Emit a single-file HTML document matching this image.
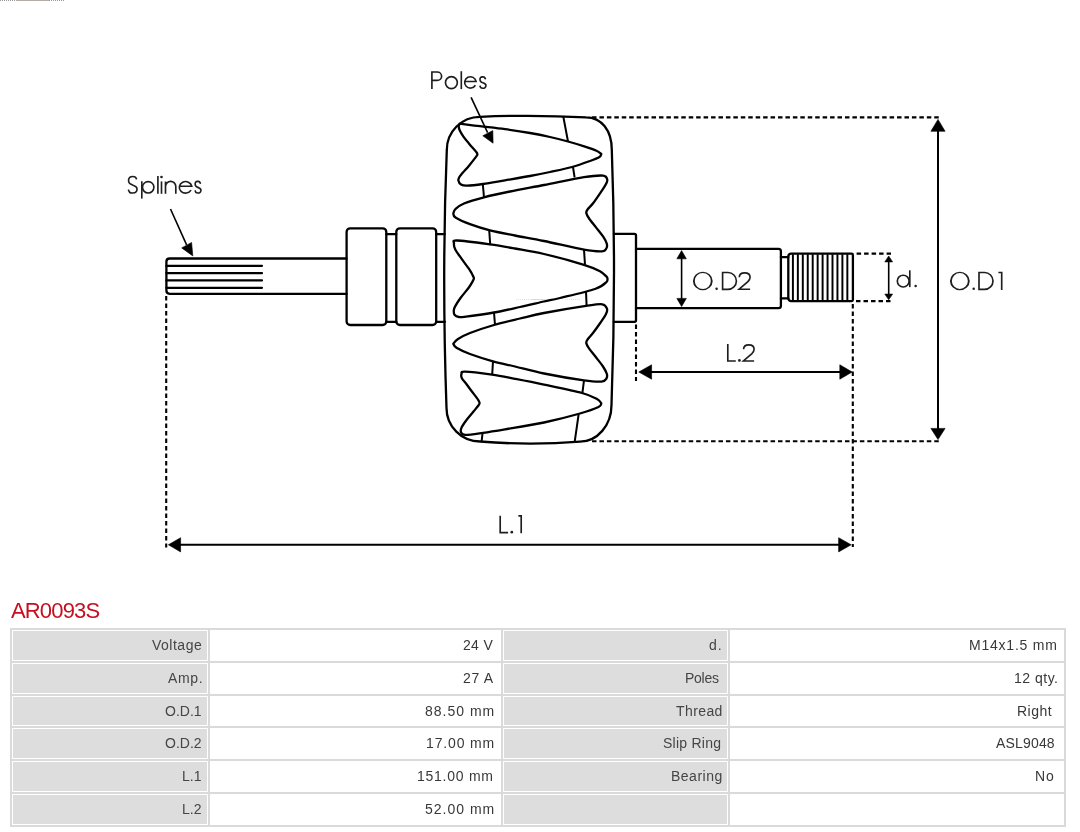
<!DOCTYPE html>
<html><head><meta charset="utf-8"><title>AR0093S</title>
<style>
html,body{margin:0;padding:0;background:#fff;}
body{width:1080px;height:832px;position:relative;overflow:hidden;font-family:"Liberation Sans",sans-serif;}
svg{position:absolute;left:0;top:0;}
.s{fill:none;stroke:#000;stroke-width:2.3;stroke-linejoin:round;stroke-linecap:round;}
.s2{fill:none;stroke:#000;stroke-width:2.2;stroke-linecap:round;}
.s3{fill:none;stroke:#000;stroke-width:1.95;}
.s4{fill:none;stroke:#000;stroke-width:2.0;stroke-linecap:butt;}
.d1{fill:none;stroke:#000;stroke-width:1.6;}
.d2{fill:none;stroke:#000;stroke-width:2.0;}
.ld{fill:none;stroke:#000;stroke-width:1.6;}
.fl{fill:#000;stroke:#000;stroke-width:0.6;stroke-linejoin:round;}
.dt{fill:none;stroke:#000;stroke-width:2.1;stroke-dasharray:4.5 3;}
.gl{fill:none;stroke:#1e1e1e;stroke-width:1.65;stroke-linecap:butt;stroke-linejoin:miter;}
.gl .gd{fill:#1e1e1e;stroke:none;}
#t{position:absolute;left:11px;top:599px;will-change:transform;font-size:22px;line-height:24px;color:#c60f1f;letter-spacing:-0.85px;}
#tb{position:absolute;left:10px;top:628px;width:1056px;height:199px;background:#dadada;}
.c{position:absolute;height:28.8px;border:1px solid #fff;box-sizing:content-box;}
.tx{position:absolute;font-size:14px;line-height:16px;white-space:nowrap;will-change:transform;-webkit-font-smoothing:antialiased;}
.c.lb{background:#dddddd;}
.c.vl{background:#fff;}
.tx.lb{color:#454545;}
.tx.vl{color:#383838;}
</style></head>
<body>
<svg width="1080" height="600" viewBox="0 0 1080 600">
<path d="M346.6 258.5 H169.6 V258.5 Q166.4 258.5 166.4 261.7 V290.6 Q166.4 293.8 169.6 293.8 H346.6" class="s"/>
<path d="M166.4 265.8 H262" class="s2"/>
<path d="M166.4 273.2 H262" class="s2"/>
<path d="M166.4 280.4 H262" class="s2"/>
<path d="M166.4 287.8 H262" class="s2"/>
<rect x="346.6" y="228.3" width="39.7" height="96.7" rx="3.6" class="s"/>
<rect x="396.3" y="228.3" width="39.9" height="96.7" rx="3.6" class="s"/>
<path d="M386.3 234.1 H396.3 M386.3 321.8 H396.3 M436.2 234.1 H444.8 M436.2 321.8 H445" class="s"/>
<path d="M480 116.8 Q533 114.55 586 117.3 C601.48 117.3 611.8 130.38 611.8 150 Q616.35 274.5 611.5 405 C611.5 425.2 597.39 441.6 580 441.6 Q530 445.65 480 441.5 C461.51 441.5 446.5 426.49 446.5 408 Q441.75 273 446.8 150 C446.8 131.67 461.67 116.8 480 116.8Z" class="s"/>
<path d="M613.9 233.9 H634.4 Q636 233.9 636 235.5 V320.2 Q636 321.8 634.4 321.8 H613.8" class="s"/>
<path d="M636 248.9 H778.5 Q780.9 248.9 780.9 251.3 V305.8 Q780.9 308.2 778.5 308.2 H636" class="s"/>
<path d="M780.9 257.2 H788.3 M780.9 298.3 H788.3" class="s"/>
<path d="M791.3 253.6 H851.6 Q852.9 253.6 852.9 254.9 V299.8 Q852.9 301.1 851.6 301.1 H791.3 Q788.3 301.1 788.3 298.1 V256.6 Q788.3 253.6 791.3 253.6 Z" class="s"/>
<path d="M792.9 254.2V300.5M797.85 254.2V300.5M802.8 254.2V300.5M807.75 254.2V300.5M812.7 254.2V300.5M817.65 254.2V300.5M822.6 254.2V300.5M827.55 254.2V300.5M832.5 254.2V300.5M837.45 254.2V300.5M842.4 254.2V300.5M847.35 254.2V300.5" class="s3"/>
<path d="M601.3 154C601 154.5 601.38 155.83 599.5 157C597.62 158.17 594.58 159.33 590 161C585.42 162.67 578.67 165.17 572 167C565.33 168.83 557 170.5 550 172C543 173.5 537.5 174.62 530 176C522.5 177.38 512.83 178.97 505 180.3C497.17 181.63 489.33 183.1 483 184C476.67 184.9 470.67 185.6 467 185.7C463.33 185.8 462.43 185.45 461 184.6C459.57 183.75 458.67 181.87 458.4 180.6C458.13 179.33 458.72 178.25 459.4 177C460.08 175.75 460.87 175.03 462.5 173.1C464.13 171.17 467.05 167.98 469.2 165.4C471.35 162.82 474.03 159.43 475.4 157.6C476.77 155.77 477.33 155.43 477.4 154.4C477.47 153.37 477.12 153.1 475.8 151.4C474.48 149.7 471.53 146.62 469.5 144.2C467.47 141.78 465.22 139.17 463.6 136.9C461.98 134.63 460.62 132.35 459.8 130.6C458.98 128.85 458.73 127.55 458.7 126.4C458.67 125.25 459.45 124.15 459.6 123.7C463 124.12 472.43 125.28 480 126.2C487.57 127.12 496.67 128.07 505 129.2C513.33 130.33 522.5 131.7 530 133C537.5 134.3 543.67 135.58 550 137C556.33 138.42 562.17 139.9 568 141.5C573.83 143.1 580.25 145.05 585 146.6C589.75 148.15 593.78 149.57 596.5 150.8C599.22 152.03 600.5 153.47 601.3 154Z" class="s"/>
<path d="M453.3 213.4C453.67 214.08 452.72 215.7 455.5 217.5C458.28 219.3 464.25 222.05 470 224.2C475.75 226.35 482.5 228.52 490 230.4C497.5 232.28 506 233.73 515 235.5C524 237.27 532.5 238.65 544 241C555.5 243.35 574.33 247.88 584 249.6C593.67 251.32 598.28 251.48 602 251.3C605.72 251.12 605.5 249.77 606.3 248.5C607.1 247.23 607.32 245.67 606.8 243.7C606.28 241.73 604.97 239.38 603.2 236.7C601.43 234.02 598.55 230.63 596.2 227.6C593.85 224.57 590.75 220.93 589.1 218.5C587.45 216.07 586.55 214.52 586.3 213C586.05 211.48 586.47 211.02 587.6 209.4C588.73 207.78 591 206 593.1 203.3C595.2 200.6 598.05 196.42 600.2 193.2C602.35 189.98 604.83 186.28 606 184C607.17 181.72 607.67 180.9 607.2 179.5C606.73 178.1 607.07 175.98 603.2 175.6C599.33 175.22 593.87 175.63 584 177.2C574.13 178.77 556.33 182.62 544 185C531.67 187.38 520 189.45 510 191.5C500 193.55 491.67 195.3 484 197.3C476.33 199.3 468.75 201.55 464 203.5C459.25 205.45 457.28 207.35 455.5 209C453.72 210.65 453.67 212.67 453.3 213.4Z" class="s"/>
<path d="M607.2 277.3C607.08 278.08 608.53 280.05 606.5 282C604.47 283.95 602.75 286.33 595 289C587.25 291.67 568.5 295.92 560 298C551.5 300.08 550.67 300 544 301.5C537.33 303 528.33 305.17 520 307C511.67 308.83 503 310.9 494 312.5C485 314.1 471.83 315.85 466 316.6C460.17 317.35 460.92 317.32 459 317C457.08 316.68 455.37 315.82 454.5 314.7C453.63 313.58 453.72 311.65 453.8 310.3C453.88 308.95 453.88 308.65 455 306.6C456.12 304.55 458.22 301.15 460.5 298C462.78 294.85 466.7 290.43 468.7 287.7C470.7 284.97 471.63 283.17 472.5 281.6C473.37 280.03 473.92 279.43 473.9 278.3C473.88 277.17 473.08 276.17 472.4 274.8C471.72 273.43 471.62 272.78 469.8 270.1C467.98 267.42 463.92 262.15 461.5 258.7C459.08 255.25 456.55 251.93 455.3 249.4C454.05 246.87 453.68 244.98 454 243.5C454.32 242.02 451.2 240.35 457.2 240.5C463.2 240.65 480.37 243.07 490 244.4C499.63 245.73 506 246.9 515 248.5C524 250.1 532.5 251.28 544 254C555.5 256.72 574.67 261.93 584 264.8C593.33 267.67 596.13 269.12 600 271.2C603.87 273.28 606 276.28 607.2 277.3Z" class="s"/>
<path d="M453.3 343.8C453.83 344.47 453.72 346.1 456.5 347.8C459.28 349.5 463.92 351.75 470 354C476.08 356.25 485.5 359.22 493 361.3C500.5 363.38 506.5 364.47 515 366.5C523.5 368.53 532.5 371.18 544 373.5C555.5 375.82 574.42 379.05 584 380.4C593.58 381.75 597.77 381.92 601.5 381.6C605.23 381.28 605.52 379.8 606.4 378.5C607.28 377.2 607.37 375.8 606.8 373.8C606.23 371.8 604.8 369.25 603 366.5C601.2 363.75 598.33 360.33 596 357.3C593.67 354.27 590.62 350.65 589 348.3C587.38 345.95 586.53 344.67 586.3 343.2C586.07 341.73 586.48 341.2 587.6 339.5C588.72 337.8 590.9 335.75 593 333C595.1 330.25 598.03 326.17 600.2 323C602.37 319.83 604.87 316.37 606 314C607.13 311.63 607.62 310.42 607 308.8C606.38 307.18 605.8 304.78 602.3 304.3C598.8 303.82 595.72 304.45 586 305.9C576.28 307.35 555 310.9 544 313C533 315.1 528.33 316.5 520 318.5C511.67 320.5 502.33 322.58 494 325C485.67 327.42 476 330.67 470 333C464 335.33 460.78 337.2 458 339C455.22 340.8 454.08 343 453.3 343.8Z" class="s"/>
<path d="M601.3 403.3C600.83 403.92 602.05 405.3 598.5 407C594.95 408.7 589.08 410.92 580 413.5C570.92 416.08 556.5 419.87 544 422.5C531.5 425.13 515.17 427.58 505 429.3C494.83 431.02 489.63 431.88 483 432.8C476.37 433.72 468.87 434.93 465.2 434.8C461.53 434.67 461.6 433.22 461 432C460.4 430.78 460.68 429.5 461.6 427.5C462.52 425.5 464.52 422.67 466.5 420C468.48 417.33 471.58 413.83 473.5 411.5C475.42 409.17 476.98 407.42 478 406C479.02 404.58 479.6 404.07 479.6 403C479.6 401.93 479.35 401.6 478 399.6C476.65 397.6 473.5 393.68 471.5 391C469.5 388.32 467.58 385.58 466 383.5C464.42 381.42 462.75 380.08 462 378.5C461.25 376.92 461 375.15 461.5 374C462 372.85 459.92 371.5 465 371.6C470.08 371.7 483.67 373.4 492 374.6C500.33 375.8 506.33 377.13 515 378.8C523.67 380.47 532.83 382.23 544 384.6C555.17 386.97 573.17 390.6 582 393C590.83 395.4 593.78 397.28 597 399C600.22 400.72 600.58 402.58 601.3 403.3Z" class="s"/>
<path d="M563.2 116 L568 141.5M482.8 184 L484 197.3M573 167 L574.6 177.4M489.2 230.2 L490.2 244.4M584 249.6 L585 264.8M494 312.5 L495 325M586 291.5 L586.6 305.9M493 361.3 L492.2 374.6M584 380.4 L582.4 393M482.6 432.9 L481.6 441.4M578.6 414.5 L574.6 442.3" class="s4"/>
<path d="M681.6 257 V300" class="d1"/>
<path d="M681.6 250.6 L676.85 258.8 L686.35 258.8 Z" class="fl"/>
<path d="M681.6 306.6 L676.85 298.4 L686.35 298.4 Z" class="fl"/>
<path d="M888.7 260 V296" class="d1"/>
<path d="M888.7 256 L884.8 261.9 L892.6 261.9 Z" class="fl"/>
<path d="M888.7 299.8 L884.8 294.1 L892.6 294.1 Z" class="fl"/>
<path d="M938 128 V431" class="d2"/>
<path d="M938 119.4 L930.9 131.3 L945.1 131.3 Z" class="fl"/>
<path d="M938 439.6 L930.9 428.4 L945.1 428.4 Z" class="fl"/>
<path d="M648 372 H843" class="d2"/>
<path d="M638.8 372 L651.6 364.8 L651.6 379.2 Z" class="fl"/>
<path d="M852.2 372 L839.8 364.8 L839.8 379.2 Z" class="fl"/>
<path d="M177 544.8 H842" class="d2"/>
<path d="M168.4 544.8 L180.6 537.7 L180.6 551.9 Z" class="fl"/>
<path d="M851.2 544.8 L838.6 537.7 L838.6 551.9 Z" class="fl"/>
<path d="M592 117.4 H939.5 M592 441.2 H939.5" class="dt" style="stroke-dasharray:4.5 2.94"/>
<path d="M856.6 253.6 H891 M856 301.1 H891 M166.2 296 V547.5 M852.8 304 V547 M636 324.5 V381" class="dt"/>
<path d="M471.1 97.4 L487.6 132.6" class="ld"/>
<path d="M493.1 143.2 L482.8 135.8 L492.8 130.6 Z" class="fl"/>
<path d="M170.5 209 L186.6 244.8" class="ld"/>
<path d="M192.8 255.9 L181.7 247.9 L191.6 242.4 Z" class="fl"/>
<path d="M0 0.5 H16 M49 0.5 H64" style="stroke:#9a9a9a;stroke-width:1;stroke-dasharray:1 1;fill:none"/>
<path d="M16 0.5 H49" style="stroke:#b4aca4;stroke-width:1;fill:none"/>
<path d="M516 299.5 H531.5 M565 299.5 H580.5" style="stroke:#d8d8d8;stroke-width:0.8;stroke-dasharray:1 1;fill:none"/>
<path d="M531.5 299.5 H546" style="stroke:#d4d0c8;stroke-width:0.8;fill:none"/>
<g class="gl">
<path d="M431.9 89.1 V72 H437.19 A4.41 4.2 0 0 1 437.19 80.4 H431.9"/>
<circle cx="451.4" cy="82.6" r="5.95"/>
<path d="M461.3 71.2 L461.3 89.1"/>
<path d="M464.72 81.5 H476.08 A5.75 5.65 0 1 0 475.38 85.23"/>
<path d="M485.67 79.16C485.45 78.84 484.87 77.62 484.35 77.24C483.84 76.86 483.2 76.84 482.57 76.9C481.94 76.96 481.02 77.09 480.59 77.58C480.16 78.07 479.92 79.12 480 79.84C480.07 80.55 480.51 81.36 481.05 81.87C481.59 82.38 482.48 82.47 483.23 82.89C483.98 83.3 485.09 83.85 485.54 84.36C485.99 84.87 486.07 85.36 485.94 85.94C485.8 86.52 485.28 87.48 484.75 87.86C484.22 88.24 483.43 88.24 482.77 88.2C482.11 88.16 481.28 88.07 480.79 87.64C480.29 87.2 479.96 85.94 479.8 85.6"/>
<path d="M136.65 179.39C136.43 179.01 135.99 177.57 135.33 177.09C134.67 176.61 133.58 176.52 132.7 176.52C131.82 176.52 130.76 176.53 130.07 177.09C129.38 177.65 128.66 178.87 128.56 179.88C128.47 180.89 128.81 182.29 129.5 183.16C130.19 184.03 131.6 184.5 132.7 185.13C133.8 185.76 135.36 186.19 136.08 186.93C136.8 187.67 137.12 188.65 137.02 189.56C136.93 190.46 136.24 191.77 135.52 192.34C134.8 192.92 133.64 192.97 132.7 193C131.76 193.03 130.62 193.08 129.88 192.51C129.14 191.93 128.55 190.05 128.28 189.56"/>
<path d="M141.8 181.2 L141.8 198.6"/>
<circle cx="148.2" cy="187.3" r="5.7"/>
<path d="M157.9 176 L157.9 193.8"/>
<circle cx="161.5" cy="177" r="1.3" class="gd"/>
<path d="M161.5 181.4 L161.5 193.8"/>
<path d="M165.5 181.4 V193.8 M165.5 186.55 A5.15 5.15 0 0 1 175.8 186.55 V193.8"/>
<path d="M179.42 186.2 H191.78 A6.3 5.75 0 1 0 191.06 190.18"/>
<path d="M200.69 183.72C200.47 183.39 199.91 182.13 199.41 181.75C198.91 181.36 198.29 181.34 197.68 181.4C197.07 181.46 196.18 181.59 195.76 182.1C195.34 182.6 195.11 183.68 195.18 184.42C195.26 185.15 195.69 185.98 196.21 186.5C196.73 187.03 197.59 187.12 198.32 187.55C199.05 187.97 200.12 188.53 200.56 189.06C201 189.58 201.07 190.08 200.94 190.68C200.82 191.28 200.3 192.27 199.79 192.65C199.28 193.04 198.51 193.04 197.87 193C197.23 192.96 196.43 192.86 195.95 192.42C195.47 191.98 195.15 190.68 194.99 190.33"/>
<path class="gd" fill-rule="evenodd" d="M692.9 281 a9.9 9.22 0 1 0 19.8 0 a9.9 9.22 0 1 0 -19.8 0Z M694.8 281 a8 7.97 0 1 0 16 0 a8 7.97 0 1 0 -16 0Z"/>
<circle cx="716.6" cy="288.8" r="1.25" class="gd"/>
<path d="M722.6 272.5 H727.95 A8.45 8.45 0 0 1 727.95 289.4 H722.6 Z"/>
<path d="M739.3 277.23 C739.3 273.95 741.85 272.8 744.6 272.8 C747.68 272.8 750.1 274.44 750.1 277.23 C750.1 279.03 749.22 280.18 747.9 281.66 L739.1 289.2 H750.1"/>
<circle cx="903.2" cy="281.1" r="5.9"/>
<path d="M909.8 270.3 L909.8 287.1"/>
<circle cx="915.6" cy="286" r="1.25" class="gd"/>
<path class="gd" fill-rule="evenodd" d="M949.95 281 a9.9 9.18 0 1 0 19.8 0 a9.9 9.18 0 1 0 -19.8 0Z M951.85 281 a8 7.93 0 1 0 16 0 a8 7.93 0 1 0 -16 0Z"/>
<circle cx="973.7" cy="288.8" r="1.25" class="gd"/>
<path d="M979 272.5 H984.55 A8.45 8.45 0 0 1 984.55 289.4 H979 Z"/>
<path d="M998.4 272.5 L1001.7 272.5 V290"/>
<path d="M727.8 344 V361 H735.8"/>
<circle cx="739.4" cy="360.4" r="1.35" class="gd"/>
<path d="M743.6 349.17 C743.6 345.93 746.07 344.8 748.75 344.8 C751.75 344.8 754.1 346.42 754.1 349.17 C754.1 350.96 753.24 352.09 751.96 353.55 L743.4 361 H754.1"/>
<path d="M500.2 515.7 V532.6 H508.1"/>
<circle cx="511.8" cy="532.2" r="1.35" class="gd"/>
<path d="M518.4 515.8 L521.2 515.8 V533.3"/>
</g>
</svg>
<div id="t">AR0093S</div>
<div id="tb"></div>
<div class="c lb" style="left:12px;top:630px;width:194px"></div>
<div class="c vl" style="left:210px;top:630px;width:289px"></div>
<div class="c lb" style="left:503px;top:630px;width:223px"></div>
<div class="c vl" style="left:730px;top:630px;width:332px"></div>
<div class="c lb" style="left:12px;top:662.8px;width:194px"></div>
<div class="c vl" style="left:210px;top:662.8px;width:289px"></div>
<div class="c lb" style="left:503px;top:662.8px;width:223px"></div>
<div class="c vl" style="left:730px;top:662.8px;width:332px"></div>
<div class="c lb" style="left:12px;top:695.6px;width:194px"></div>
<div class="c vl" style="left:210px;top:695.6px;width:289px"></div>
<div class="c lb" style="left:503px;top:695.6px;width:223px"></div>
<div class="c vl" style="left:730px;top:695.6px;width:332px"></div>
<div class="c lb" style="left:12px;top:728.4px;width:194px"></div>
<div class="c vl" style="left:210px;top:728.4px;width:289px"></div>
<div class="c lb" style="left:503px;top:728.4px;width:223px"></div>
<div class="c vl" style="left:730px;top:728.4px;width:332px"></div>
<div class="c lb" style="left:12px;top:761.2px;width:194px"></div>
<div class="c vl" style="left:210px;top:761.2px;width:289px"></div>
<div class="c lb" style="left:503px;top:761.2px;width:223px"></div>
<div class="c vl" style="left:730px;top:761.2px;width:332px"></div>
<div class="c lb" style="left:12px;top:794px;width:194px"></div>
<div class="c vl" style="left:210px;top:794px;width:289px"></div>
<div class="c lb" style="left:503px;top:794px;width:223px"></div>
<div class="c vl" style="left:730px;top:794px;width:332px"></div>
<span class="tx lb" id="t0_0" style="right:877.58px;top:637px;letter-spacing:0.5px">Voltage</span>
<span class="tx vl" id="t0_1" style="right:586.82px;top:637px;letter-spacing:0.33px">24 V</span>
<span class="tx lb" id="t0_2" style="right:357.08px;top:637px;letter-spacing:1px">d.</span>
<span class="tx vl" id="t0_3" style="right:22.78px;top:637px;letter-spacing:0.78px">M14x1.5 mm</span>
<span class="tx lb" id="t1_0" style="right:876.56px;top:669.8px;letter-spacing:0.67px">Amp.</span>
<span class="tx vl" id="t1_1" style="right:586.32px;top:669.8px;letter-spacing:0.67px">27 A</span>
<span class="tx lb" id="t1_2" style="right:360.87px;top:669.8px;letter-spacing:-0.25px">Poles</span>
<span class="tx vl" id="t1_3" style="right:21.71px;top:669.8px;letter-spacing:0.5px">12 qty.</span>
<span class="tx lb" id="t2_0" style="right:878.71px;top:702.6px;letter-spacing:0px">O.D.1</span>
<span class="tx vl" id="t2_1" style="right:584.74px;top:702.6px;letter-spacing:1px">88.50 mm</span>
<span class="tx lb" id="t2_2" style="right:357.25px;top:702.6px;letter-spacing:0.4px">Thread</span>
<span class="tx vl" id="t2_3" style="right:27.63px;top:702.6px;letter-spacing:0.5px">Right</span>
<span class="tx lb" id="t3_0" style="right:878.68px;top:735.4px;letter-spacing:0px">O.D.2</span>
<span class="tx vl" id="t3_1" style="right:584.88px;top:735.4px;letter-spacing:0.86px">17.00 mm</span>
<span class="tx lb" id="t3_2" style="right:358.4px;top:735.4px;letter-spacing:0.25px">Slip Ring</span>
<span class="tx vl" id="t3_3" style="right:25.32px;top:735.4px;letter-spacing:0.17px">ASL9048</span>
<span class="tx lb" id="t4_0" style="right:878.71px;top:768.2px;letter-spacing:0px">L.1</span>
<span class="tx vl" id="t4_1" style="right:585.98px;top:768.2px;letter-spacing:0.75px">151.00 mm</span>
<span class="tx lb" id="t4_2" style="right:357.15px;top:768.2px;letter-spacing:0.5px">Bearing</span>
<span class="tx vl" id="t4_3" style="right:25.11px;top:768.2px;letter-spacing:1px">No</span>
<span class="tx lb" id="t5_0" style="right:878.68px;top:801px;letter-spacing:0px">L.2</span>
<span class="tx vl" id="t5_1" style="right:584.74px;top:801px;letter-spacing:1px">52.00 mm</span>
</body></html>
